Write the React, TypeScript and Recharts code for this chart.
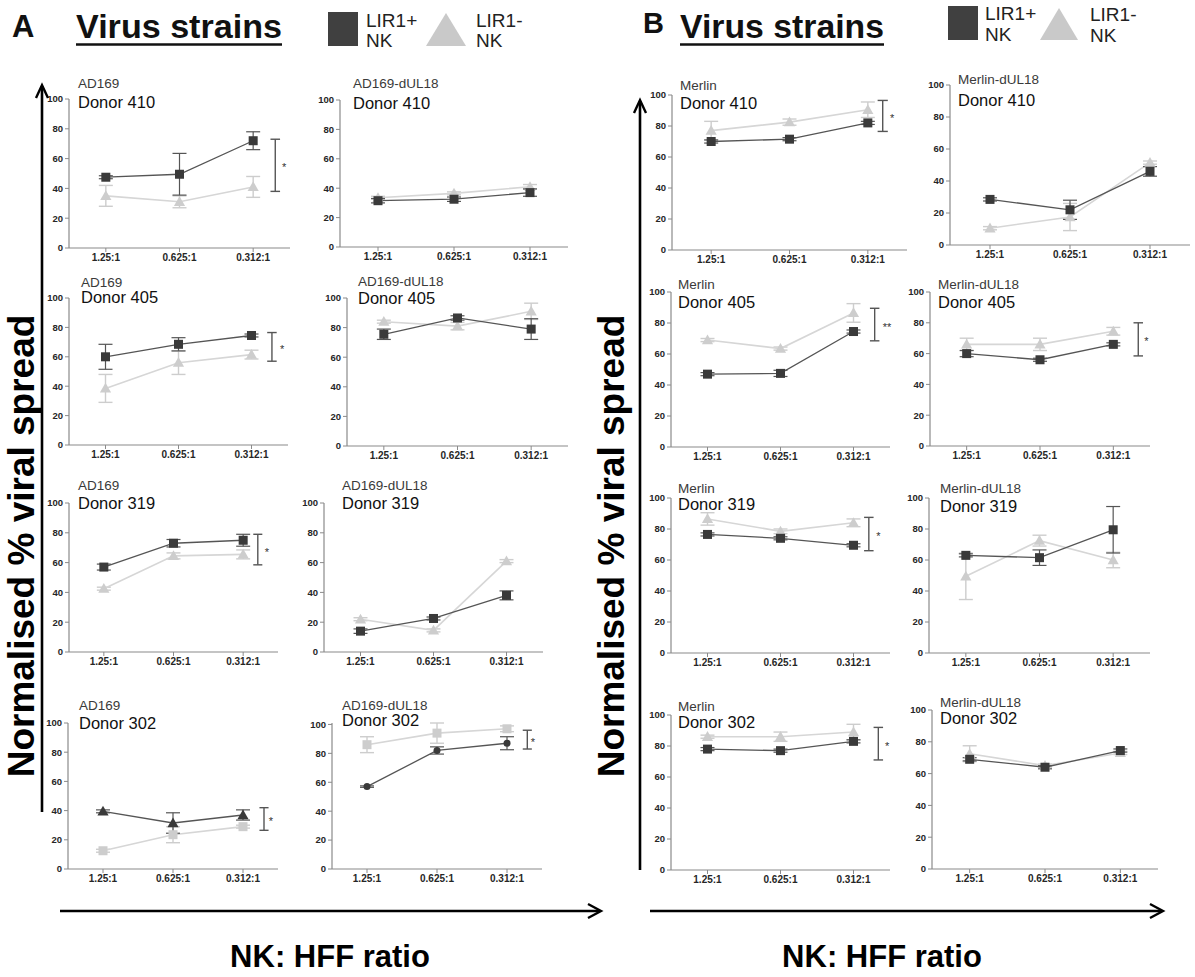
import React from 'react';
import { LineChart, Line, XAxis, YAxis, ErrorBar, ReferenceLine, ReferenceDot } from 'recharts';

const FONT = '"Liberation Sans", Arial, Helvetica, sans-serif';

// NK : HFF ratio categories
const ratios = ['1.25:1', '0.625:1', '0.312:1'];
const yTicks = [0, 20, 40, 60, 80, 100];

// ---------- A: AD169 / AD169-dUL18 ----------
const ad169D410Plus = [47.5, 49.5, 72];
const ad169D410PlusErr = [1, 14, 6];
const ad169D410Minus = [35, 31, 41];
const ad169D410MinusErr = [7, 4, 7];

const ad169dD410Plus = [31.5, 32.5, 37];
const ad169dD410PlusErr = [1.5, 1.5, 2.5];
const ad169dD410Minus = [33.5, 36.5, 41];
const ad169dD410MinusErr = [1, 1, 1.5];

const ad169D405Plus = [60, 68.5, 74.5];
const ad169D405PlusErr = [8.5, 4.5, 1];
const ad169D405Minus = [38.5, 56, 61.5];
const ad169D405MinusErr = [9.5, 8, 3];

const ad169dD405Plus = [75.5, 86.5, 79];
const ad169dD405PlusErr = [3.5, 1.5, 7];
const ad169dD405Minus = [84, 81, 91];
const ad169dD405MinusErr = [1, 2.5, 5.5];

const ad169D319Plus = [57, 73, 75];
const ad169D319PlusErr = [2, 2.5, 4];
const ad169D319Minus = [42.5, 64.5, 65.5];
const ad169D319MinusErr = [1, 2, 3];

const ad169dD319Plus = [14, 22.5, 38];
const ad169dD319PlusErr = [1.5, 1, 3];
const ad169dD319Minus = [22, 14.5, 61];
const ad169dD319MinusErr = [1, 1, 1];

const ad169D302Plus = [39.5, 31.5, 37];
const ad169D302PlusErr = [1, 7, 3.5];
const ad169D302Minus = [12.5, 23.5, 29];
const ad169D302MinusErr = [1, 5.5, 1];

const ad169dD302Plus = [57, 82, 87];
const ad169dD302PlusErr = [0.5, 2.5, 4.5];
const ad169dD302Minus = [86, 94, 97];
const ad169dD302MinusErr = [5.5, 7, 2];

// ---------- B: Merlin / Merlin-dUL18 ----------
const merD410Plus = [70, 71.5, 82];
const merD410PlusErr = [1, 1, 1];
const merD410Minus = [77, 82.5, 90.5];
const merD410MinusErr = [6, 2, 5];

const merdD410Plus = [28.5, 22, 46];
const merdD410PlusErr = [1, 6, 3];
const merdD410Minus = [10.5, 17.5, 51.5];
const merdD410MinusErr = [1, 8.5, 1];

const merD405Plus = [47, 47.5, 74.5];
const merD405PlusErr = [1, 2, 1];
const merD405Minus = [69, 63.5, 86.5];
const merD405MinusErr = [1, 1, 6];

const merdD405Plus = [60, 56, 66];
const merdD405PlusErr = [2, 1, 1];
const merdD405Minus = [66, 66, 74.5];
const merdD405MinusErr = [4, 4, 2.5];

const merD319Plus = [76.5, 74, 69.5];
const merD319PlusErr = [1, 1, 1];
const merD319Minus = [86.5, 78.5, 84];
const merD319MinusErr = [4, 1.5, 2.5];

const merdD319Plus = [63, 61.5, 79.5];
const merdD319PlusErr = [1, 5, 15];
const merdD319Minus = [49.5, 72.5, 60];
const merdD319MinusErr = [15, 3.5, 5];

const merD302Plus = [78, 77, 83];
const merD302PlusErr = [1, 1, 1];
const merD302Minus = [86, 86, 89];
const merD302MinusErr = [1, 3, 5];

const merdD302Plus = [69, 64, 74.5];
const merdD302PlusErr = [1, 1, 1];
const merdD302Minus = [72.5, 65, 73];
const merdD302MinusErr = [5, 1, 1];

// significance brackets: [low, high]
const sigAD169D410 = [38, 73];
const sigAD169D405 = [57, 76.5];
const sigAD169D319 = [58.5, 79];
const sigAD169D302 = [26.5, 42];
const sigAD169dD302 = [83, 96];
const sigMerD410 = [76.5, 96.5];
const sigMerD405 = [68.5, 89.5];
const sigMerdD405 = [58.5, 80];
const sigMerD319 = [66, 87.5];
const sigMerD302 = [71, 92];

const DARK = '#3a3a3a';
const DARK_LINE = '#555555';
const LIGHT = '#cdcdcd';
const LIGHT_LINE = '#d6d6d6';
const AXIS = '#8a8a8a';

type Shape = 'square' | 'triangle' | 'circle';

interface PanelCfg {
  strain: string;
  donor: string;
  plus: number[];
  plusErr: number[];
  minus: number[];
  minusErr: number[];
  sig?: number[];
  sigLabel?: string;
  sigX?: number;
  starX?: number;
  plusShape: Shape;
  minusShape: Shape;
  x0: number;
  x1: number;
  yT: number;
  yB: number;
  tx: number;
  strainY: number;
  donorY: number;
}

const panels: PanelCfg[] = [
  { strain: 'AD169', donor: 'Donor 410', plus: ad169D410Plus, plusErr: ad169D410PlusErr, minus: ad169D410Minus, minusErr: ad169D410MinusErr, sig: sigAD169D410, sigLabel: '*', sigX: 3.3, starX: 3.42, plusShape: 'square', minusShape: 'triangle', x0: 69, x1: 290, yT: 99, yB: 248, tx: 78, strainY: 83, donorY: 102 },
  { strain: 'AD169-dUL18', donor: 'Donor 410', plus: ad169dD410Plus, plusErr: ad169dD410PlusErr, minus: ad169dD410Minus, minusErr: ad169dD410MinusErr, plusShape: 'square', minusShape: 'triangle', x0: 340, x1: 568, yT: 100, yB: 247, tx: 353, strainY: 83, donorY: 103 },
  { strain: 'AD169', donor: 'Donor 405', plus: ad169D405Plus, plusErr: ad169D405PlusErr, minus: ad169D405Minus, minusErr: ad169D405MinusErr, sig: sigAD169D405, sigLabel: '*', sigX: 3.28, starX: 3.42, plusShape: 'square', minusShape: 'triangle', x0: 69, x1: 288, yT: 298, yB: 445, tx: 81, strainY: 282, donorY: 297 },
  { strain: 'AD169-dUL18', donor: 'Donor 405', plus: ad169dD405Plus, plusErr: ad169dD405PlusErr, minus: ad169dD405Minus, minusErr: ad169dD405MinusErr, plusShape: 'square', minusShape: 'triangle', x0: 347, x1: 568, yT: 298, yB: 446, tx: 358, strainY: 281, donorY: 298 },
  { strain: 'AD169', donor: 'Donor 319', plus: ad169D319Plus, plusErr: ad169D319PlusErr, minus: ad169D319Minus, minusErr: ad169D319MinusErr, sig: sigAD169D319, sigLabel: '*', sigX: 3.21, starX: 3.34, plusShape: 'square', minusShape: 'triangle', x0: 69, x1: 278, yT: 503, yB: 652, tx: 78, strainY: 485, donorY: 503 },
  { strain: 'AD169-dUL18', donor: 'Donor 319', plus: ad169dD319Plus, plusErr: ad169dD319PlusErr, minus: ad169dD319Minus, minusErr: ad169dD319MinusErr, plusShape: 'square', minusShape: 'triangle', x0: 324, x1: 543, yT: 503, yB: 652, tx: 342, strainY: 485, donorY: 503 },
  { strain: 'AD169', donor: 'Donor 302', plus: ad169D302Plus, plusErr: ad169D302PlusErr, minus: ad169D302Minus, minusErr: ad169D302MinusErr, sig: sigAD169D302, sigLabel: '*', sigX: 3.3, starX: 3.4, plusShape: 'triangle', minusShape: 'square', x0: 68, x1: 278, yT: 723, yB: 869, tx: 79, strainY: 705, donorY: 723 },
  { strain: 'AD169-dUL18', donor: 'Donor 302', plus: ad169dD302Plus, plusErr: ad169dD302PlusErr, minus: ad169dD302Minus, minusErr: ad169dD302MinusErr, sig: sigAD169dD302, sigLabel: '*', sigX: 3.29, starX: 3.37, plusShape: 'circle', minusShape: 'square', x0: 332, x1: 542, yT: 723, yB: 869, tx: 342, strainY: 705, donorY: 720 },
  { strain: 'Merlin', donor: 'Donor 410', plus: merD410Plus, plusErr: merD410PlusErr, minus: merD410Minus, minusErr: merD410MinusErr, sig: sigMerD410, sigLabel: '*', sigX: 3.19, starX: 3.31, plusShape: 'square', minusShape: 'triangle', x0: 672, x1: 907, yT: 95, yB: 250, tx: 680, strainY: 85, donorY: 103 },
  { strain: 'Merlin-dUL18', donor: 'Donor 410', plus: merdD410Plus, plusErr: merdD410PlusErr, minus: merdD410Minus, minusErr: merdD410MinusErr, plusShape: 'square', minusShape: 'triangle', x0: 950, x1: 1190, yT: 85, yB: 245, tx: 958, strainY: 79, donorY: 100 },
  { strain: 'Merlin', donor: 'Donor 405', plus: merD405Plus, plusErr: merD405PlusErr, minus: merD405Minus, minusErr: merD405MinusErr, sig: sigMerD405, sigLabel: '**', sigX: 3.29, starX: 3.46, plusShape: 'square', minusShape: 'triangle', x0: 671, x1: 890, yT: 292, yB: 447, tx: 678, strainY: 284, donorY: 302 },
  { strain: 'Merlin-dUL18', donor: 'Donor 405', plus: merdD405Plus, plusErr: merdD405PlusErr, minus: merdD405Minus, minusErr: merdD405MinusErr, sig: sigMerdD405, sigLabel: '*', sigX: 3.34, starX: 3.45, plusShape: 'square', minusShape: 'triangle', x0: 930, x1: 1150, yT: 292, yB: 446, tx: 938, strainY: 284, donorY: 302 },
  { strain: 'Merlin', donor: 'Donor 319', plus: merD319Plus, plusErr: merD319PlusErr, minus: merD319Minus, minusErr: merD319MinusErr, sig: sigMerD319, sigLabel: '*', sigX: 3.21, starX: 3.34, plusShape: 'square', minusShape: 'triangle', x0: 671, x1: 890, yT: 498, yB: 653, tx: 678, strainY: 488, donorY: 504 },
  { strain: 'Merlin-dUL18', donor: 'Donor 319', plus: merdD319Plus, plusErr: merdD319PlusErr, minus: merdD319Minus, minusErr: merdD319MinusErr, plusShape: 'square', minusShape: 'triangle', x0: 929, x1: 1150, yT: 498, yB: 653, tx: 940, strainY: 488, donorY: 506 },
  { strain: 'Merlin', donor: 'Donor 302', plus: merD302Plus, plusErr: merD302PlusErr, minus: merD302Minus, minusErr: merD302MinusErr, sig: sigMerD302, sigLabel: '*', sigX: 3.34, starX: 3.46, plusShape: 'square', minusShape: 'triangle', x0: 671, x1: 890, yT: 715, yB: 870, tx: 678, strainY: 706, donorY: 722 },
  { strain: 'Merlin-dUL18', donor: 'Donor 302', plus: merdD302Plus, plusErr: merdD302PlusErr, minus: merdD302Minus, minusErr: merdD302MinusErr, plusShape: 'square', minusShape: 'triangle', x0: 932, x1: 1158, yT: 710, yB: 869, tx: 940, strainY: 702, donorY: 718 },
];

const makeDot = (shape: Shape, fill: string, size: number) => (props: any) => {
  const { cx, cy, index } = props;
  if (cx == null || cy == null) return <g key={`d${index}`} />;
  if (shape === 'square') {
    return <rect key={`d${index}`} x={cx - size / 2} y={cy - size / 2} width={size} height={size} fill={fill} />;
  }
  if (shape === 'triangle') {
    const s = size * 0.62;
    return (
      <polygon
        key={`d${index}`}
        points={`${cx},${cy - s} ${cx - s},${cy + s * 0.75} ${cx + s},${cy + s * 0.75}`}
        fill={fill}
      />
    );
  }
  return <circle key={`d${index}`} cx={cx} cy={cy} r={size / 2} fill={fill} />;
};

const starShape = (label: string) => (props: any) => (
  <text
    x={props.cx}
    y={props.cy + 6}
    textAnchor="middle"
    fontSize={11}
    fontFamily={FONT}
    fill="#333333"
  >
    {label}
  </text>
);

const PAD_L = 40;
const PAD_T = 30;
const PAD_B = 30;
const PAD_R = 6;

function Panel({ p }: { p: PanelCfg }) {
  const w = p.x1 - p.x0;
  const h = p.yB - p.yT;
  const data = ratios.map((r, i) => ({
    x: i + 1,
    label: r,
    plus: p.plus[i],
    plusErr: p.plusErr[i],
    minus: p.minus[i],
    minusErr: p.minusErr[i],
  }));
  const tickStyle = { fontSize: 10, fontWeight: 700, fill: '#262626', fontFamily: FONT };
  return (
    <div style={{ position: 'absolute', left: p.x0 - PAD_L, top: p.yT - PAD_T }}>
      <LineChart
        width={w + PAD_L + PAD_R}
        height={h + PAD_T + PAD_B}
        data={data}
        margin={{ top: PAD_T, right: PAD_R, bottom: 0, left: 0 }}
      >
        <XAxis
          dataKey="x"
          type="number"
          domain={[0.5, 3.5]}
          ticks={[1, 2, 3]}
          interval={0}
          allowDataOverflow
          tickFormatter={(v: number) => ratios[v - 1]}
          height={PAD_B}
          tick={tickStyle}
          tickSize={4}
          tickMargin={2}
          stroke={AXIS}
          axisLine={{ stroke: AXIS, strokeWidth: 1.2 }}
          tickLine={{ stroke: AXIS }}
        />
        <YAxis
          type="number"
          domain={[0, 100]}
          ticks={yTicks}
          interval={0}
          width={PAD_L}
          tick={{ ...tickStyle, fontSize: 9.5 }}
          tickSize={4}
          tickMargin={2}
          stroke={AXIS}
          axisLine={{ stroke: AXIS, strokeWidth: 1.2 }}
          tickLine={{ stroke: AXIS }}
        />
        <Line
          dataKey="minus"
          isAnimationActive={false}
          stroke={LIGHT_LINE}
          strokeWidth={1.6}
          dot={makeDot(p.minusShape, LIGHT, 9)}
          activeDot={false}
        >
          <ErrorBar dataKey="minusErr" width={7} stroke={LIGHT} strokeWidth={1.4} direction="y" />
        </Line>
        <Line
          dataKey="plus"
          isAnimationActive={false}
          stroke={DARK_LINE}
          strokeWidth={1.3}
          dot={makeDot(p.plusShape, DARK, p.plusShape === 'circle' ? 7 : 9)}
          activeDot={false}
        >
          <ErrorBar dataKey="plusErr" width={7} stroke={DARK_LINE} strokeWidth={1.2} direction="y" />
        </Line>
        {p.sig && p.sigX != null && (
          <ReferenceLine
            segment={[{ x: p.sigX, y: p.sig[0] }, { x: p.sigX, y: p.sig[1] }]}
            stroke="#555"
            strokeWidth={1.4}
          />
        )}
        {p.sig && p.sigX != null && (
          <ReferenceLine
            segment={[{ x: p.sigX - 0.065, y: p.sig[1] }, { x: p.sigX + 0.065, y: p.sig[1] }]}
            stroke="#555"
            strokeWidth={1.4}
          />
        )}
        {p.sig && p.sigX != null && (
          <ReferenceLine
            segment={[{ x: p.sigX - 0.065, y: p.sig[0] }, { x: p.sigX + 0.065, y: p.sig[0] }]}
            stroke="#555"
            strokeWidth={1.4}
          />
        )}
        {p.sig && p.starX != null && (
          <ReferenceDot
            x={p.starX}
            y={(p.sig[0] + p.sig[1]) / 2}
            r={1}
            shape={starShape(p.sigLabel || '*')}
          />
        )}
      </LineChart>
    </div>
  );
}

function Overlay() {
  return (
    <svg
      width={1195}
      height={977}
      style={{ position: 'absolute', left: 0, top: 0, pointerEvents: 'none' }}
      fontFamily={FONT}
    >
      {/* headers */}
      <text x={12} y={37} fontSize={31} fontWeight={700} fill="#111">A</text>
      <text x={76} y={38} fontSize={34} fontWeight={700} fill="#111" textLength={206} lengthAdjust="spacingAndGlyphs">Virus strains</text>
      <line x1={76} x2={282} y1={44.5} y2={44.5} stroke="#111" strokeWidth={2.6} />
      <rect x={328} y={12} width={30} height={34} fill="#404040" />
      <text x={366} y={27} fontSize={19} fill="#222">LIR1+</text>
      <text x={366} y={47} fontSize={19} fill="#222">NK</text>
      <polygon points="426,46 466,46 446,13" fill="#c9c9c9" />
      <text x={476} y={27} fontSize={19} fill="#222">LIR1-</text>
      <text x={476} y={47} fontSize={19} fill="#222">NK</text>

      <text x={643} y={33} fontSize={29} fontWeight={700} fill="#111">B</text>
      <text x={680} y={38} fontSize={34} fontWeight={700} fill="#111" textLength={204} lengthAdjust="spacingAndGlyphs">Virus strains</text>
      <line x1={680} x2={884} y1={44.5} y2={44.5} stroke="#111" strokeWidth={2.6} />
      <rect x={948} y={6} width={30} height={34} fill="#404040" />
      <text x={985} y={20} fontSize={19} fill="#222">LIR1+</text>
      <text x={985} y={41} fontSize={19} fill="#222">NK</text>
      <polygon points="1040,40 1078,40 1059,8" fill="#c9c9c9" />
      <text x={1090} y={21} fontSize={19} fill="#222">LIR1-</text>
      <text x={1090} y={42} fontSize={19} fill="#222">NK</text>

      {/* panel titles */}
      {panels.map((p, i) => (
        <g key={i}>
          <text x={p.tx} y={p.strainY + 5} fontSize={13.5} fill="#3a3a3a">{p.strain}</text>
          <text x={p.tx} y={p.donorY + 6} fontSize={16.5} fill="#111">{p.donor}</text>
        </g>
      ))}

      {/* vertical arrows */}
      <line x1={42} x2={42} y1={812} y2={86} stroke="#000" strokeWidth={2.6} />
      <polyline points="36,98 42,85 48,98" fill="none" stroke="#000" strokeWidth={2.4} />
      <line x1={640} x2={640} y1={870} y2={101} stroke="#000" strokeWidth={2.6} />
      <polyline points="634,113 640,100 646,113" fill="none" stroke="#000" strokeWidth={2.4} />

      {/* y titles */}
      <text transform="translate(34,546) rotate(-90)" x={0} y={0} textAnchor="middle" fontSize={37} fontWeight={700} fill="#000">Normalised % viral spread</text>
      <text transform="translate(624,546) rotate(-90)" x={0} y={0} textAnchor="middle" fontSize={37} fontWeight={700} fill="#000">Normalised % viral spread</text>

      {/* horizontal arrows */}
      <line x1={60} x2={600} y1={911} y2={911} stroke="#000" strokeWidth={2.6} />
      <polyline points="588,904 601,911 588,918" fill="none" stroke="#000" strokeWidth={2.4} />
      <line x1={650} x2={1162} y1={911} y2={911} stroke="#000" strokeWidth={2.6} />
      <polyline points="1150,904 1163,911 1150,918" fill="none" stroke="#000" strokeWidth={2.4} />

      <text x={330} y={967} textAnchor="middle" fontSize={31} fontWeight={700} fill="#000">NK: HFF ratio</text>
      <text x={882} y={967} textAnchor="middle" fontSize={31} fontWeight={700} fill="#000">NK: HFF ratio</text>
    </svg>
  );
}

export default function App() {
  return (
    <div
      style={{
        position: 'absolute',
        left: 0,
        top: 0,
        width: 1195,
        height: 977,
        background: '#fff',
        overflow: 'hidden',
        fontFamily: FONT,
      }}
    >
      {panels.map((p, i) => (
        <Panel key={i} p={p} />
      ))}
      <Overlay />
    </div>
  );
}
